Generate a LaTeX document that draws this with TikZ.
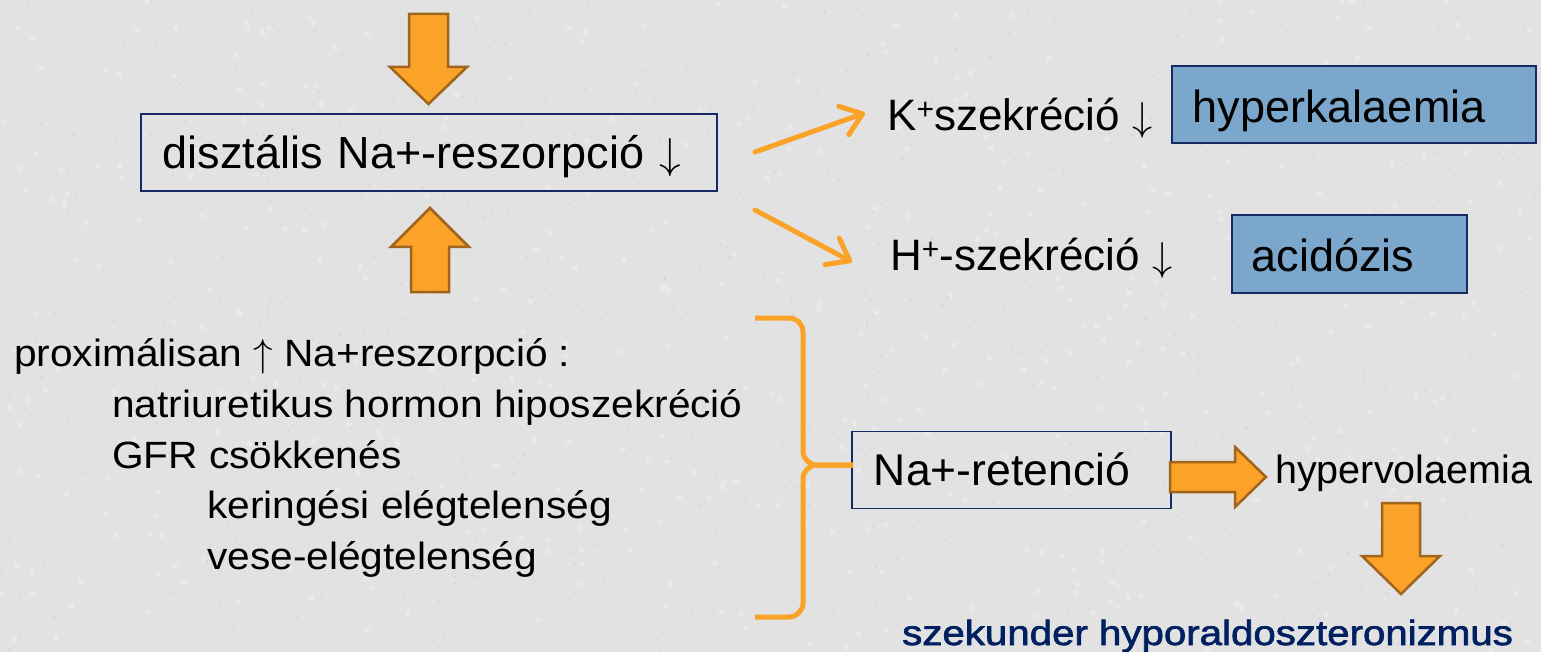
\documentclass[tikz,border=0pt]{standalone}
\usepackage{fontspec}
\usepackage{graphicx}
\setmainfont{Liberation Sans}
\newfontfamily\franklin[FakeStretch=1.07]{Liberation Sans}
\newfontfamily\franklinmed[FakeStretch=1.15,FakeBold=2]{Liberation Sans}
\usetikzlibrary{arrows.meta}
\definecolor{bgc}{RGB}{226,226,226}
\definecolor{speck}{RGB}{190,190,190}
\definecolor{light}{RGB}{238,238,238}
\definecolor{org}{RGB}{250,163,40}
\definecolor{orgdark}{RGB}{160,100,28}
\definecolor{navy}{RGB}{24,42,100}
\definecolor{bluefill}{RGB}{124,167,204}
\definecolor{darkblue}{RGB}{0,32,96}
\newcommand\fs[1]{\fontsize{#1}{#1}\selectfont}
\newcommand\supplus{\raisebox{11.5pt}{\fs{30}+}}
\newcommand\darr[1]{\resizebox{!}{#1}{$\downarrow$}}
\newcommand\uarr[1]{\resizebox{!}{#1}{$\uparrow$}}
\begin{document}
\begin{tikzpicture}[x=1pt,y=-1pt,
  box/.style={draw=navy, line width=1.8pt, inner ysep=0pt, align=left, anchor=north west},
  bluebox/.style={box, fill=bluefill},
  txt/.style={inner sep=0pt, anchor=base west},
  thinarrow/.style={draw=org, line width=5pt, line cap=round, -{Straight Barb[length=20pt,width=30pt,line cap=round,line join=round]}},
  brace/.style={draw=org, line width=5pt, rounded corners=14pt},
  blockarrow/.style={fill=org, draw=orgdark, line width=2.5pt, line join=miter},
]
\useasboundingbox (0,0) rectangle (1541,652);
\fill[bgc] (0,0) rectangle (1541,652);
\begin{scope}
\clip (0,0) rectangle (1541,652);
\pgfmathsetseed{11}
\foreach \i in {1,...,900} {
  \pgfmathsetmacro\rx{rnd*1541}
  \pgfmathsetmacro\ry{rnd*652}
  \fill[speck, opacity=0.35] (\rx,\ry) circle (1.2pt);
}
\foreach \i in {1,...,500} {
  \pgfmathsetmacro\rx{rnd*1541}
  \pgfmathsetmacro\ry{rnd*652}
  \fill[light, opacity=0.6] (\rx,\ry) circle (3pt);
}
\end{scope}

% boxes
\node[box, inner xsep=22pt, text width=532pt, minimum height=77pt, text height=54.5pt, text depth=22.5pt, font=\fs{45}] (dist) at (140,113.5) {disztális Na+-reszorpció \darr{30pt}};
\node[bluebox, inner xsep=21pt, text width=322pt, minimum height=77pt, text height=56.7pt, text depth=20.3pt, font=\fs{45}] (hk) at (1171,65) {hyperkalaemia};
\node[bluebox, inner xsep=20pt, text width=195pt, minimum height=78pt, text height=56.7pt, text depth=21.3pt, font=\fs{45}] (ac) at (1231,214) {acidózis};
\node[box, inner xsep=22pt, text width=275pt, minimum height=77pt, text height=54.5pt, text depth=22.5pt, font=\fs{44.5}] (naret) at (851,430.5) {Na+-retenció};

% texts
\node[txt, font=\fs{44}] (kt) at (887,130.7) {K\supplus szekréció \darr{28pt}};
\node[txt, font=\fs{44}] (ht) at (890,270.7) {H\supplus-szekréció \darr{28pt}};
\node[txt, font=\fs{39.5}] (hv) at (1275,483) {hypervolaemia};
\node[txt, font=\franklinmed\fs{35}, text=darkblue] (sek) at (902,645) {szekunder hyporaldoszteronizmus};

\node[txt, font=\franklin\fs{38}] (p1) at (14,366) {proximálisan \uarr{27pt} Na+reszorpció :};
\node[txt, font=\franklin\fs{38}] (p2) at (112,417) {natriuretikus hormon hiposzekréció};
\node[txt, font=\franklin\fs{38}] (p3) at (112,468) {GFR csökkenés};
\node[txt, font=\franklin\fs{38}] (p4) at (207,518) {keringési elégtelenség};
\node[txt, font=\franklin\fs{38}] (p5) at (207,569) {vese-elégtelenség};

% thin arrows
\coordinate (a1s) at (755,152);
\coordinate (a1e) at (865,113);
\coordinate (a2s) at (755,210);
\coordinate (a2e) at (852,262);
\draw[thinarrow] (a1s) -- (a1e);
\draw[thinarrow] (a2s) -- (a2e);

% brace
\coordinate (bt) at (853,465);
\draw[brace] (755,318) -- (803,318) -- (803,465) -- (bt);
\draw[brace] (755,617) -- (803,617) -- (803,465) -- (bt);

% block arrows
\draw[blockarrow] (409,14) -- (448,14) -- (448,67) -- (467,67) -- (428.5,104) -- (390,67) -- (409,67) -- cycle;
\draw[blockarrow] (411,292) -- (449,292) -- (449,247) -- (469,247) -- (430,208) -- (391,247) -- (411,247) -- cycle;
\draw[blockarrow] (1170,462) -- (1235,462) -- (1235,447) -- (1266,477) -- (1235,507) -- (1235,492) -- (1170,492) -- cycle;
\draw[blockarrow] (1382,503) -- (1420,503) -- (1420,556) -- (1440,556) -- (1401,594) -- (1362,556) -- (1382,556) -- cycle;
\end{tikzpicture}
\end{document}
